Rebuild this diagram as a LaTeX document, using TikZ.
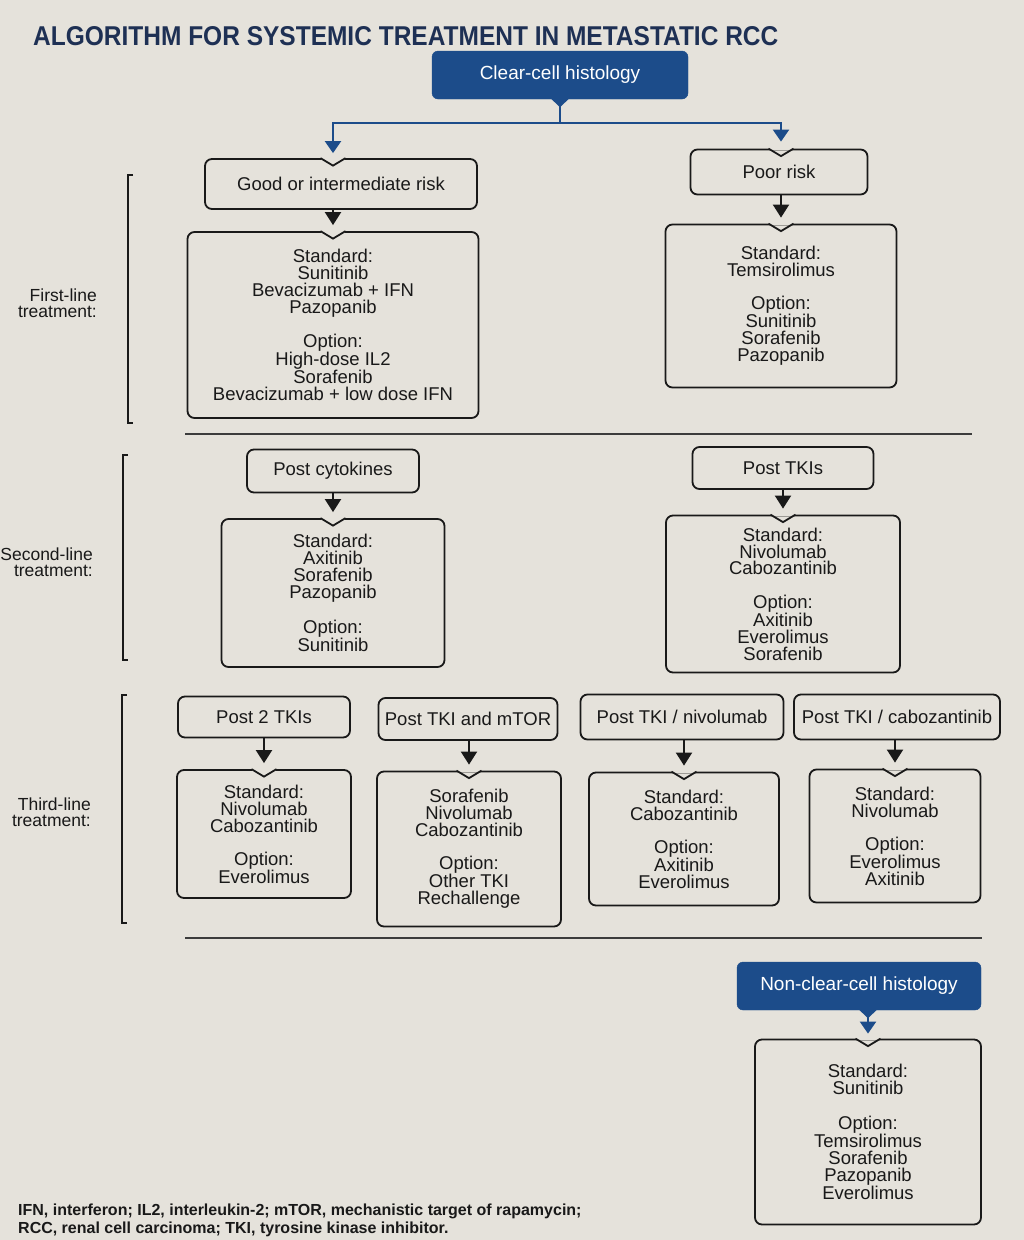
\documentclass[tikz,border=0pt]{standalone}
\usepackage{fontspec}
\setmainfont{Liberation Sans}
\usepackage{graphicx}
\usetikzlibrary{arrows.meta}
\definecolor{paper}{RGB}{229,226,219}
\definecolor{ink}{RGB}{25,25,25}
\definecolor{esmo}{RGB}{28,76,138}
\definecolor{navy}{RGB}{30,48,84}
\newcommand\notchat[1]{%
  \fill[paper] ([xshift=-12pt,yshift=-1.6pt]#1) rectangle ([xshift=12pt,yshift=1.6pt]#1);
  \draw[ink, line width=1.8pt, line join=miter] ([xshift=-12.5pt]#1) -- ([yshift=-7.5pt]#1) -- ([xshift=12.5pt]#1);}
\begin{document}
\begin{tikzpicture}[x=1pt,y=-1pt,
  box/.style={draw=ink, line width=1.8pt, rounded corners=7pt, align=center, inner sep=0pt,
    text=ink, font=\fontsize{18.5}{17}\selectfont},
  headbox/.style={box, font=\fontsize{18.5}{20}\selectfont},
  bluebox/.style={fill=esmo, draw=esmo, rounded corners=6pt, text=white, inner sep=0pt,
    font=\fontsize{19}{20}\selectfont},
  arr/.style={draw=ink, line width=2pt, -{Triangle[width=16pt,length=13pt]}},
  barr/.style={draw=esmo, line width=2.2pt, -{Triangle[width=16pt,length=12pt]}},
  bline/.style={draw=esmo, line width=2.2pt},
  sidelbl/.style={align=right, anchor=east, text=ink, inner sep=0pt, font=\fontsize{17.5}{16}\selectfont},
  bracket/.style={draw=ink, line width=1.2pt},
  rulel/.style={draw=ink!85, line width=1.4pt}]
\fill[paper] (0,0) rectangle (1024,1240);
\useasboundingbox (0,0) rectangle (1024,1240);

% title
\node[anchor=west, text=navy, inner sep=0pt] (title) at (33,36)
  {\resizebox{745pt}{19pt}{\bfseries ALGORITHM FOR SYSTEMIC TREATMENT IN METASTATIC RCC}};

% clear cell
\node[bluebox, minimum width=256pt, minimum height=48pt] (cc) at (560,75) {Clear-cell histology};
\fill[esmo] ([xshift=-9pt,yshift=0.5pt]cc.south) -- ([yshift=-8pt]cc.south) -- ([xshift=9pt,yshift=0.5pt]cc.south) -- cycle;
\coordinate (j) at (560,123);

% first line
\node[headbox, minimum width=272pt, minimum height=50pt] (gi) at (341,184) {Good or intermediate risk};
\node[headbox, minimum width=177pt, minimum height=45pt] (poor) at (779,172) {Poor risk};
\node[box, minimum width=291pt, minimum height=186pt] (s1L) at (333,325)
  {Standard:\\Sunitinib\\Bevacizumab + IFN\\Pazopanib\\[16pt]Option:\\High-dose IL2\\Sorafenib\\Bevacizumab + low dose IFN};
\node[box, minimum width=231pt, minimum height=163pt] (s1R) at (781,306)
  {Standard:\\Temsirolimus\\[16pt]Option:\\Sunitinib\\Sorafenib\\Pazopanib};

\draw[bline] (cc.south) -- (j);
\draw[barr, shorten >=5pt] (j) -| (gi.north -| s1L.north);
\draw[barr, shorten >=7pt] (j) -| (poor.north -| s1R.north);
\notchat{gi.north -| s1L.north}
\notchat{poor.north -| s1R.north}
\draw[arr, shorten >=6pt] (gi.south -| s1L.north) -- (s1L.north);
\draw[arr, shorten >=6pt] (poor.south -| s1R.north) -- (s1R.north);
\notchat{s1L.north}
\notchat{s1R.north}

\node[sidelbl] (l1) at (97,303) {First-line\\treatment:};
\draw[bracket] (133,175) -- (128,175) -- (128,423) -- (133,423);
\draw[rulel] (185,434) -- (972,434);

% second line
\node[headbox, minimum width=172pt, minimum height=43pt] (pc) at (333,471) {Post cytokines};
\node[headbox, minimum width=181pt, minimum height=42pt] (pt) at (783,468) {Post TKIs};
\node[box, minimum width=223pt, minimum height=148pt] (s2L) at (333,593)
  {Standard:\\Axitinib\\Sorafenib\\Pazopanib\\[16pt]Option:\\Sunitinib};
\node[box, minimum width=234pt, minimum height=157pt] (s2R) at (783,594)
  {Standard:\\Nivolumab\\Cabozantinib\\[16pt]Option:\\Axitinib\\Everolimus\\Sorafenib};
\draw[arr, shorten >=6pt] (pc.south -| s2L.north) -- (s2L.north);
\draw[arr, shorten >=6pt] (pt.south -| s2R.north) -- (s2R.north);
\notchat{s2L.north}
\notchat{s2R.north}

\node[sidelbl] (l2) at (93,562) {Second-line\\treatment:};
\draw[bracket] (128,455) -- (123,455) -- (123,660) -- (128,660);

% third line
\node[headbox, minimum width=172pt, minimum height=41pt] (t1) at (264,717) {Post 2 TKIs};
\node[headbox, minimum width=179pt, minimum height=42pt] (t2) at (468,719) {Post TKI and mTOR};
\node[headbox, minimum width=203pt, minimum height=45pt] (t3) at (682,717) {Post TKI / nivolumab};
\node[headbox, minimum width=206pt, minimum height=45pt] (t4) at (897,717) {Post TKI / cabozantinib};
\node[box, minimum width=174pt, minimum height=128pt] (s3a) at (264,834)
  {Standard:\\Nivolumab\\Cabozantinib\\[16pt]Option:\\Everolimus};
\node[box, minimum width=184pt, minimum height=155pt] (s3b) at (469,849)
  {Sorafenib\\Nivolumab\\Cabozantinib\\[16pt]Option:\\Other TKI\\Rechallenge};
\node[box, minimum width=190pt, minimum height=133pt] (s3c) at (684,839)
  {Standard:\\Cabozantinib\\[16pt]Option:\\Axitinib\\Everolimus};
\node[box, minimum width=171pt, minimum height=133pt] (s3d) at (895,836)
  {Standard:\\Nivolumab\\[16pt]Option:\\Everolimus\\Axitinib};
\draw[arr, shorten >=6pt] (t1.south -| s3a.north) -- (s3a.north);
\draw[arr, shorten >=6pt] (t2.south -| s3b.north) -- (s3b.north);
\draw[arr, shorten >=6pt] (t3.south -| s3c.north) -- (s3c.north);
\draw[arr, shorten >=6pt] (t4.south -| s3d.north) -- (s3d.north);
\notchat{s3a.north}
\notchat{s3b.north}
\notchat{s3c.north}
\notchat{s3d.north}

\node[sidelbl] (l3) at (91,812) {Third-line\\treatment:};
\draw[bracket] (127,695) -- (122,695) -- (122,923) -- (127,923);
\draw[rulel] (185,938) -- (982,938);

% non-clear-cell
\node[bluebox, minimum width=244pt, minimum height=48pt] (nc) at (859,986) {Non-clear-cell histology};
\node[box, minimum width=226pt, minimum height=185pt] (s4) at (868,1132)
  {Standard:\\Sunitinib\\[18pt]Option:\\Temsirolimus\\Sorafenib\\Pazopanib\\Everolimus};
\fill[esmo] ([xshift=-9pt,yshift=0.5pt]nc.south -| s4.north) -- ([yshift=-8pt]nc.south -| s4.north) -- ([xshift=9pt,yshift=0.5pt]nc.south -| s4.north) -- cycle;
\draw[barr, shorten >=5pt] (nc.south -| s4.north) -- (s4.north);
\notchat{s4.north}

% footnote
\node[anchor=north west, align=left, inner sep=0pt, text=ink, font=\bfseries\fontsize{16}{17.5}\selectfont] (fn) at (18,1204)
  {IFN, interferon; IL2, interleukin-2; mTOR, mechanistic target of rapamycin;\\RCC, renal cell carcinoma; TKI, tyrosine kinase inhibitor.};
\end{tikzpicture}
\end{document}
